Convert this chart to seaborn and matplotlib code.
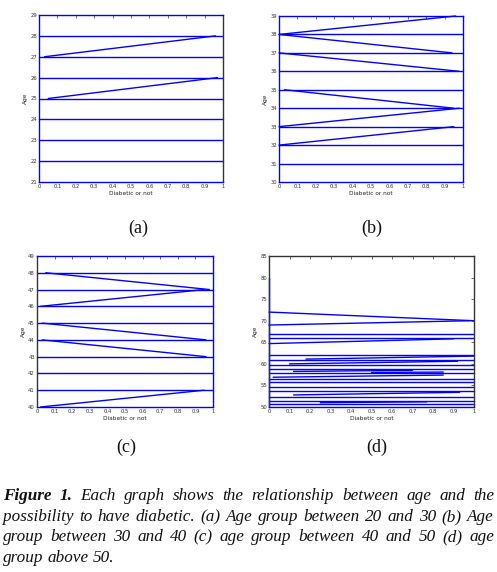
import matplotlib
matplotlib.use('Agg')
import matplotlib.pyplot as plt
import seaborn as sns
import pandas as pd

# horizontal levels (age values) drawn across the full 0..1 range
A_LEVELS = [22, 23, 24, 25, 26, 27, 28]
B_LEVELS = [31, 32, 33, 34, 35, 36, 37, 38]
C_LEVELS = [41, 42, 43, 44, 45, 46, 47, 48]
D_LEVELS = [67.0, 66.0, 62.0, 60.8, 59.65, 58.8, 57.8, 56.5, 55.8, 54.7,
            53.7, 52.4, 51.5, 50.6]

# sloped segments: (age at start, age at end, x start, x end)
A_SLOPES = [(25, 26, 0.05, 0.97), (27, 28, 0.03, 0.96)]
B_SLOPES = [(32, 33, 0.0, 0.95), (33, 34, 0.0, 0.98), (35, 34, 0.03, 0.95),
            (37, 36, 0.0, 0.98), (38, 37, 0.0, 0.94), (38, 39, 0.0, 0.96)]
C_SLOPES = [(48, 47, 0.05, 0.98), (46, 47, 0.02, 0.95), (45, 44, 0.03, 0.96),
            (44, 43, 0.03, 0.96), (40, 41, 0.02, 0.95)]
D_SLOPES = [(72, 70, 0.0, 1.0), (69, 70, 0.0, 0.98), (64.7, 65.8, 0.0, 0.9),
            (61.1, 61.8, 0.18, 1.0), (60.0, 60.6, 0.1, 0.92),
            (58.25, 58.5, 0.12, 0.7), (58.0, 58.1, 0.5, 0.85),
            (56.9, 57.4, 0.02, 0.85), (52.8, 53.4, 0.12, 0.93),
            (51.0, 51.2, 0.25, 0.77), (50, 80, 0.0, 0.0)]

X_TICKS = [0, 0.1, 0.2, 0.3, 0.4, 0.5, 0.6, 0.7, 0.8, 0.9, 1]
X_TICKLABELS = ['0', '0.1', '0.2', '0.3', '0.4', '0.5', '0.6', '0.7', '0.8', '0.9', '1']

PANEL_NAMES = ['(a)', '(b)', '(c)', '(d)']
CAPTION_LINES = [
    [('Figure', 'bold'), ('1.', 'bold'), ('Each', 'normal'), ('graph', 'normal'),
     ('shows', 'normal'), ('the', 'normal'), ('relationship', 'normal'),
     ('between', 'normal'), ('age', 'normal'), ('and', 'normal'), ('the', 'normal')],
    [(w, 'normal') for w in 'possibility to have diabetic. (a) Age group between 20 and 30 (b) Age'.split()],
    [(w, 'normal') for w in 'group between 30 and 40 (c) age group between 40 and 50 (d) age'.split()],
    [(w, 'normal') for w in 'group above 50.'.split()],
]

W, H = 497, 572
BLUE = '#0000ff'
DARK = '#333333'


def segments_frame(levels, slopes):
    rows = []
    for i, lv in enumerate(levels):
        rows += [(f'h{i}', 0.0, lv), (f'h{i}', 1.0, lv)]
    for j, (y0, y1, x0, x1) in enumerate(slopes):
        rows += [(f's{j}', x0, y0), (f's{j}', x1, y1)]
    return pd.DataFrame(rows, columns=['seg', 'x', 'y'])


def draw_panel(ax, levels, slopes, ylim, yticks, spine_colors):
    df = segments_frame(levels, slopes)
    sns.lineplot(data=df, x='x', y='y', units='seg', estimator=None, sort=False,
                 color=BLUE, lw=1.0, ax=ax, clip_on=False)
    ax.set_xlim(0, 1)
    ax.set_ylim(*ylim)
    ax.set_xticks(X_TICKS)
    ax.set_xticklabels(X_TICKLABELS)
    ax.set_yticks(yticks)
    ax.set_yticklabels([str(t) for t in yticks])
    ax.tick_params(direction='in', length=2, width=0.5, labelsize=3.8, pad=1.5,
                   top=True, right=True, colors=DARK)
    ax.set_xlabel('Diabetic or not', fontsize=4.2, labelpad=1.5)
    ax.set_ylabel('Age', fontsize=4.2, labelpad=1.5)
    for side, col in spine_colors.items():
        ax.spines[side].set_color(col)
        ax.spines[side].set_linewidth(1.0)
        ax.spines[side].set_visible(True)


def place_line(fig, words, baseline, x0, x1, justify):
    renderer = fig.canvas.get_renderer()
    texts = []
    for w, weight in words:
        t = fig.text(0, 1 - baseline / H, w, fontsize=12.3, style='italic', weight=weight,
                     family='Liberation Serif', va='baseline', ha='left', color='#111111')
        texts.append(t)
    widths = [t.get_window_extent(renderer).width for t in texts]
    if justify:
        gap = (x1 - x0 - sum(widths)) / (len(words) - 1)
    else:
        gap = 4.0
    x = x0
    for t, wd in zip(texts, widths):
        t.set_x(x / W)
        x += wd + gap


sns.set_style('white')
fig = plt.figure(figsize=(W / 100, H / 100), dpi=100)

# axes boxes in pixels: left, top, right, bottom
boxes = [(39, 15, 223, 182), (279, 16, 463, 182), (37, 256, 213, 407), (269, 256, 474, 407)]
axes = []
for l, t, r, b in boxes:
    axes.append(fig.add_axes([l / W, 1 - b / H, (r - l) / W, (b - t) / H]))

draw_panel(axes[0], A_LEVELS, A_SLOPES, (21, 29), list(range(21, 30)),
           {'left': BLUE, 'top': BLUE, 'bottom': BLUE, 'right': DARK})
draw_panel(axes[1], B_LEVELS, B_SLOPES, (30, 39), list(range(30, 40)),
           {'left': BLUE, 'top': BLUE, 'bottom': BLUE, 'right': BLUE})
draw_panel(axes[2], C_LEVELS, C_SLOPES, (40, 49), list(range(40, 50)),
           {'left': DARK, 'top': BLUE, 'bottom': BLUE, 'right': BLUE})
draw_panel(axes[3], D_LEVELS, D_SLOPES, (50, 85), list(range(50, 90, 5)),
           {'left': DARK, 'top': DARK, 'bottom': BLUE, 'right': DARK})

# panel names under each chart
name_pos = [(138, 228), (372, 228), (126, 447), (377, 447)]
for name, (px, py) in zip(PANEL_NAMES, name_pos):
    fig.text(px / W, 1 - py / H, name, fontsize=13, family='Liberation Serif',
             ha='center', va='center', color='#111111')

baselines = [500, 521, 541, 562]
for i, (words, base) in enumerate(zip(CAPTION_LINES, baselines)):
    place_line(fig, words, base, 3, 494, justify=(i < 3))

fig.savefig('out.png', dpi=100)
